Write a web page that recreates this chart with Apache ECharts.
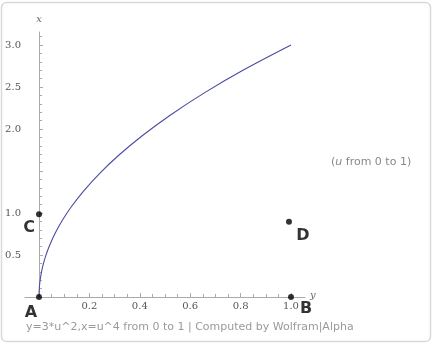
<!DOCTYPE html>
<html>
<head>
<meta charset="utf-8">
<script src="https://cdn.jsdelivr.net/npm/echarts@6/dist/echarts.min.js"></script>
<style>html,body{margin:0;padding:0;background:#fff;}#c{width:432px;height:345px;}</style>
</head>
<body>
<div id="c"></div>
<script>
// Curve samples: horizontal (labelled "y") and vertical (labelled "x")
const curveH = [0, 0.0000063, 0.0001, 0.0005, 0.0016, 0.0039, 0.0081, 0.0150, 0.0256, 0.0410, 0.0625, 0.0915, 0.1296, 0.1785, 0.2401, 0.3164, 0.4096, 0.5220, 0.6561, 0.8145, 1.0];
const curveV = [0, 0.0075, 0.03, 0.0675, 0.12, 0.1875, 0.27, 0.3675, 0.48, 0.6075, 0.75, 0.9075, 1.08, 1.2675, 1.47, 1.6875, 1.92, 2.1675, 2.43, 2.7075, 3.0];
// Marked points
const pointNames = ['A', 'B', 'C', 'D'];
const pointH = [0, 1.0, 0, 0.992];
const pointV = [0, 0, 0.985, 0.895];
// Ticks and tick labels
const xMajorTicks = [0.2, 0.4, 0.6, 0.8, 1.0];
const xLabels = [0.2, 0.4, 0.6, 0.8, 1.0];
const xMinorTicks = [0, 0.05, 0.1, 0.15, 0.2, 0.25, 0.3, 0.35, 0.4, 0.45, 0.5, 0.55, 0.6, 0.65, 0.7, 0.75, 0.8, 0.85, 0.9, 0.95, 1.0];
const yMajorTicks = [0.5, 1.0, 1.5, 2.0, 2.5, 3.0];
const yLabels = [0.5, 1.0, 2.0, 2.5, 3.0];
const yMinorTicks = [0.1, 0.2, 0.3, 0.4, 0.5, 0.6, 0.7, 0.8, 0.9, 1.0, 1.1, 1.2, 1.3, 1.4, 1.5, 1.6, 1.7, 1.8, 1.9, 2.0, 2.1, 2.2, 2.3, 2.4, 2.5, 2.6, 2.7, 2.8, 2.9, 3.0, 3.1];
const footer = 'y=3*u^2,x=u^4 from 0 to 1 | Computed by Wolfram|Alpha';

const labelOffsets = {A: [-8, 16], B: [15, 12], C: [-10, 14], D: [14, 14]};

const chart = echarts.init(document.getElementById('c'), null, {renderer: 'canvas'});
const gridPos = {left: 25, right: 127, top: 32, bottom: 48};
const X_MIN = -0.0556, X_MAX = 1.0556, Y_MIN = 0, Y_MAX = 3.155;
const axisColor = '#aaaaaa';
const tickFont = {fontFamily: 'DejaVu Serif', fontSize: 10, color: '#555'};

chart.setOption({
  animation: false,
  backgroundColor: '#fff',
  graphic: [{
    type: 'rect', shape: {x: 1.5, y: 2.5, width: 429, height: 339, r: 5},
    style: {fill: 'none', stroke: '#d9d9d9', lineWidth: 1.5}, z: -10
  }],
  title: [{
    text: footer, left: 21, top: 317,
    textStyle: {fontFamily: 'DejaVu Sans', fontSize: 11, fontWeight: 'normal', color: '#9a9a9a'}
  }, {
    text: '({u|u} from 0 to 1)', left: 326, top: 152,
    textStyle: {fontFamily: 'DejaVu Sans', fontSize: 11, fontWeight: 'normal', color: '#888',
      rich: {u: {fontStyle: 'italic', fontFamily: 'DejaVu Sans', fontSize: 11, color: '#888'}}}
  }],
  grid: [Object.assign({}, gridPos), Object.assign({}, gridPos)],
  xAxis: [{
    gridIndex: 0, type: 'value', min: X_MIN, max: X_MAX,
    name: 'y', nameLocation: 'end', nameGap: 5,
    nameTextStyle: {fontFamily: 'DejaVu Serif', fontStyle: 'italic', fontSize: 10, color: '#666', verticalAlign: 'bottom', padding: [0, 0, -3, 0]},
    axisLine: {show: true, onZero: true, lineStyle: {color: axisColor, width: 1}},
    axisTick: {show: true, inside: true, length: 4, customValues: xMajorTicks, lineStyle: {color: axisColor}},
    axisLabel: Object.assign({show: true, margin: 4, customValues: xLabels, formatter: v => v.toFixed(1)}, tickFont),
    splitLine: {show: false}
  }, {
    gridIndex: 1, type: 'value', min: X_MIN, max: X_MAX,
    axisLine: {show: false, onZero: true},
    axisTick: {show: true, inside: true, length: 3, customValues: xMinorTicks, lineStyle: {color: axisColor}},
    axisLabel: {show: false},
    splitLine: {show: false}
  }],
  yAxis: [{
    gridIndex: 0, type: 'value', min: Y_MIN, max: Y_MAX,
    name: 'x', nameLocation: 'end', nameGap: 8,
    nameTextStyle: {fontFamily: 'DejaVu Serif', fontStyle: 'italic', fontSize: 10, color: '#666', align: 'center'},
    axisLine: {show: true, onZero: true, lineStyle: {color: axisColor, width: 1}},
    axisTick: {show: true, inside: true, length: 4, customValues: yMajorTicks, lineStyle: {color: axisColor}},
    axisLabel: Object.assign({show: true, margin: 4, customValues: yLabels, formatter: v => v.toFixed(1)}, tickFont),
    splitLine: {show: false}
  }, {
    gridIndex: 1, type: 'value', min: Y_MIN, max: Y_MAX,
    axisLine: {show: false, onZero: true},
    axisTick: {show: true, inside: true, length: 3, customValues: yMinorTicks, lineStyle: {color: axisColor}},
    axisLabel: {show: false},
    splitLine: {show: false}
  }],
  series: [{
    type: 'line', xAxisIndex: 0, yAxisIndex: 0,
    data: curveH.map((h, i) => [h, curveV[i]]),
    smooth: 0.3, showSymbol: false, symbol: 'none',
    lineStyle: {color: '#4b4ba3', width: 1.1}, z: 3
  }, {
    type: 'scatter', xAxisIndex: 0, yAxisIndex: 0,
    data: pointNames.map((n, i) => ({
      value: [pointH[i], pointV[i]], name: n,
      label: {offset: labelOffsets[n]}
    })),
    symbol: 'circle', symbolSize: 6,
    itemStyle: {color: '#000'},
    label: {show: true, position: 'inside', formatter: p => p.name,
      fontFamily: 'DejaVu Sans', fontSize: 16, fontWeight: 'bold', color: '#000'},
    z: 5
  }]
});
</script>
</body>
</html>
